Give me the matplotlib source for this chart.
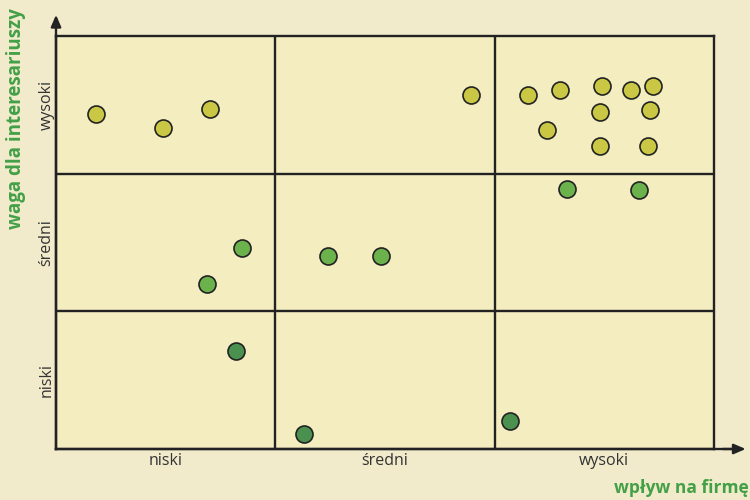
import matplotlib.pyplot as plt

# poziomy na obu osiach
levels = ['niski', 'średni', 'wysoki']

# grupy interesariuszy: (wpływ na firmę, waga dla interesariuszy) w skali 0-3
high_x = [0.18, 0.49, 0.70, 1.89, 2.15, 2.30, 2.49, 2.62, 2.72, 2.48, 2.71, 2.24, 2.48, 2.70]
high_y = [2.43, 2.33, 2.47, 2.57, 2.57, 2.61, 2.64, 2.61, 2.64, 2.45, 2.46, 2.32, 2.20, 2.20]

mid_x = [0.85, 0.69, 1.24, 1.48, 2.33, 2.66]
mid_y = [1.46, 1.20, 1.40, 1.40, 1.89, 1.88]

low_x = [0.82, 1.13, 2.07]
low_y = [0.71, 0.11, 0.20]

green = '#43a047'
bg = '#f1ebcc'
cell = '#f3edc0'
ink = '#222222'

plt.rcParams['font.family'] = ['Open Sans', 'DejaVu Sans']

fig = plt.figure(figsize=(7.5, 5), dpi=100, facecolor=bg)
ax = fig.add_axes([0.0747, 0.102, 0.8773, 0.826])
ax.set_facecolor(cell)
ax.set_xlim(0, 3)
ax.set_ylim(0, 3)

for s in ax.spines.values():
    s.set_linewidth(1.7)
    s.set_color(ink)

# siatka 3x3
for v in (1, 2):
    ax.axvline(v, color=ink, lw=1.7, ymax=0.995)
    ax.axhline(v, color=ink, lw=1.7)

kw = dict(s=150, edgecolors=ink, linewidths=1.2, zorder=3)
ax.scatter(high_x, high_y, c='#c9c743', **kw)
ax.scatter(mid_x, mid_y, c='#6bb24d', **kw)
ax.scatter(low_x, low_y, c='#4a9150', **kw)

ax.set_xticks([0.5, 1.5, 2.5])
ax.set_xticklabels(levels, fontsize=11.5, color='#333333')
ax.set_yticks([0.5, 1.5, 2.5])
ax.set_yticklabels(levels, fontsize=11.5, color='#333333', rotation=90, va='center')
ax.tick_params(axis='x', length=0, pad=3)
ax.tick_params(axis='y', length=0, pad=1)

# strzałki osi
fig.add_artist(plt.Line2D([0.0747, 0.0747], [0.102, 0.955], color=ink, lw=1.7))
fig.add_artist(plt.Line2D([0.0747, 0.98], [0.102, 0.102], color=ink, lw=1.7))
ax.annotate('', xy=(0.0747, 0.976), xytext=(0.0747, 0.94), xycoords='figure fraction',
            arrowprops=dict(arrowstyle='-|>,head_length=0.7,head_width=0.3', color=ink, lw=1.7))
ax.annotate('', xy=(0.998, 0.102), xytext=(0.96, 0.102), xycoords='figure fraction',
            arrowprops=dict(arrowstyle='-|>,head_length=0.7,head_width=0.3', color=ink, lw=1.7))

fig.text(0.021, 0.762, 'waga dla interesariuszy', rotation=90, ha='center', va='center',
         fontsize=13.5, fontweight='bold', color=green)
fig.text(0.998, 0.024, 'wpływ na firmę', ha='right', va='center',
         fontsize=12.5, fontweight='bold', color=green)

fig.savefig('out.png', dpi=100, facecolor=bg)
